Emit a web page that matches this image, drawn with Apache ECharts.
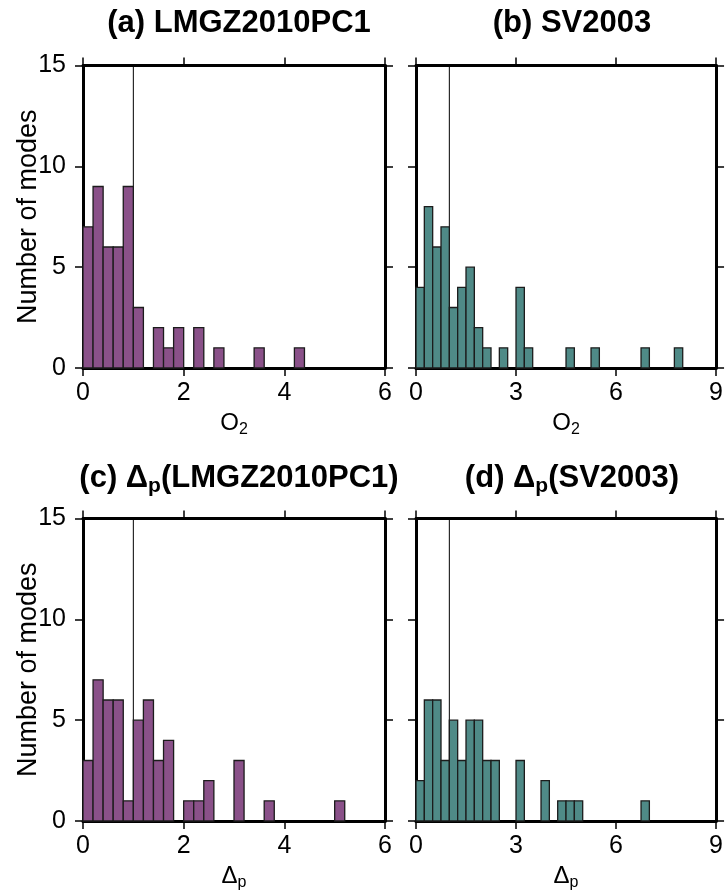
<!DOCTYPE html>
<html>
<head>
<meta charset="utf-8">
<script src="https://cdn.jsdelivr.net/npm/echarts@6/dist/echarts.min.js"></script>
<style>
  html, body { margin: 0; padding: 0; background: #fff; }
  #chart { width: 726px; height: 892px; }
</style>
</head>
<body>
<div id="chart"></div>
<script>
// Histogram counts (number of modes per bin)
const binWidthO2LMGZ = 0.2;
const countsO2LMGZ = [7, 9, 6, 6, 9, 3, 0, 2, 1, 2, 0, 2, 0, 1, 0, 0, 0, 1, 0, 0, 0, 1];

const binWidthO2SV = 0.25;
const countsO2SV = [4, 8, 6, 7, 3, 4, 5, 2, 1, 0, 1, 0, 4, 1, 0, 0, 0, 0, 1, 0, 0, 1, 0, 0, 0, 0, 0, 1, 0, 0, 0, 1];

const binWidthDpLMGZ = 0.2;
const countsDpLMGZ = [3, 7, 6, 6, 1, 5, 6, 3, 4, 0, 1, 1, 2, 0, 0, 3, 0, 0, 1, 0, 0, 0, 0, 0, 0, 1];

const binWidthDpSV = 0.25;
const countsDpSV = [2, 6, 6, 3, 5, 3, 5, 5, 3, 3, 0, 0, 3, 0, 0, 2, 0, 1, 1, 1, 0, 0, 0, 0, 0, 0, 0, 1];

// Axis ranges and tick steps
const xMaxLMGZ = 6, xStepLMGZ = 2;
const xMaxSV = 9, xStepSV = 3;
const yMax = 15, yStep = 5;
const refX = 1;

const panelTitles = [
  '{t|(a) LMGZ2010PC1}',
  '{t|(b) SV2003}',
  '{t|(c) Δ}{s|p}{t|(LMGZ2010PC1)}',
  '{t|(d) Δ}{s|p}{t|(SV2003)}'
];
const xNames = ['{n|O}{sub|2}', '{n|O}{sub|2}', '{n|Δ}{sub|p}', '{n|Δ}{sub|p}'];
const yName = 'Number of modes';

const PURPLE = '#8a5189';
const TEAL = '#4f8a87';
const FONT = '"Liberation Sans", Arial, Helvetica, sans-serif';

function toBins(counts, w) {
  const out = [];
  counts.forEach((c, i) => { if (c > 0) out.push([i * w, (i + 1) * w, c]); });
  return out;
}

const panels = [
  { counts: countsO2LMGZ, w: binWidthO2LMGZ, xMax: xMaxLMGZ, step: xStepLMGZ, color: PURPLE, left: 83, top: 65.5, yLabels: true },
  { counts: countsO2SV, w: binWidthO2SV, xMax: xMaxSV, step: xStepSV, color: TEAL, left: 416, top: 65.5, yLabels: false },
  { counts: countsDpLMGZ, w: binWidthDpLMGZ, xMax: xMaxLMGZ, step: xStepLMGZ, color: PURPLE, left: 83, top: 518.5, yLabels: true },
  { counts: countsDpSV, w: binWidthDpSV, xMax: xMaxSV, step: xStepSV, color: TEAL, left: 416, top: 518.5, yLabels: false }
];
const GW = 302, GH = 302.5;

const grid = [], xAxis = [], yAxis = [], series = [], title = [];

const tickStyle = { show: true, inside: false, length: 8, lineStyle: { color: '#000', width: 1.5 } };
const lineStyle = { show: true, onZero: false, lineStyle: { color: '#000', width: 3 } };
const labelStyle = { color: '#000', fontSize: 25, fontFamily: FONT };

panels.forEach((p, i) => {
  grid.push({ left: p.left, top: p.top, width: GW, height: GH, containLabel: false });

  // bottom axis with labels and name
  xAxis.push({
    type: 'value', gridIndex: i, position: 'bottom', min: 0, max: p.xMax, interval: p.step,
    axisLine: lineStyle, axisTick: tickStyle, splitLine: { show: false },
    axisLabel: Object.assign({ margin: 13, showMinLabel: true, showMaxLabel: true }, labelStyle),
    name: xNames[i], nameLocation: 'middle', nameGap: 40, nameMoveOverlap: false,
    nameTextStyle: {
      rich: {
        n: { fontSize: 24, fontFamily: FONT, color: '#000' },
        sub: { fontSize: 16, fontFamily: FONT, color: '#000', padding: [14, 0, 0, 0] }
      }
    }
  });
  // mirrored top axis
  xAxis.push({
    type: 'value', gridIndex: i, position: 'top', min: 0, max: p.xMax, interval: p.step,
    axisLine: lineStyle, axisTick: tickStyle, splitLine: { show: false }, axisLabel: { show: false }
  });

  yAxis.push({
    type: 'value', gridIndex: i, position: 'left', min: 0, max: yMax, interval: yStep,
    axisLine: lineStyle, axisTick: tickStyle, splitLine: { show: false },
    axisLabel: Object.assign({ show: p.yLabels, margin: 17 }, labelStyle),
    name: p.yLabels ? yName : '', nameLocation: 'middle', nameGap: 41, nameMoveOverlap: false,
    nameTextStyle: { fontSize: 27, fontFamily: FONT, color: '#000' }
  });
  yAxis.push({
    type: 'value', gridIndex: i, position: 'right', min: 0, max: yMax, interval: yStep,
    axisLine: lineStyle, axisTick: tickStyle, splitLine: { show: false }, axisLabel: { show: false }
  });

  // reference line at x = 1
  series.push({
    type: 'line', xAxisIndex: 2 * i, yAxisIndex: 2 * i, data: [[refX, 0], [refX, yMax]],
    symbol: 'none', lineStyle: { color: '#000', width: 1 }, z: 1, silent: true, animation: false
  });

  // histogram bars
  series.push({
    type: 'custom', xAxisIndex: 2 * i, yAxisIndex: 2 * i, z: 2, animation: false,
    data: toBins(p.counts, p.w),
    encode: { x: [0, 1], y: 2 },
    renderItem: (params, api) => {
      const a = api.coord([api.value(0), api.value(2)]);
      const b = api.coord([api.value(1), 0]);
      return {
        type: 'rect',
        shape: { x: a[0], y: a[1], width: b[0] - a[0], height: b[1] - a[1] },
        style: { fill: p.color, stroke: '#1c1c1c', lineWidth: 1.3 }
      };
    }
  });

  title.push({
    text: panelTitles[i], left: p.left + GW / 2, top: p.top - 63, textAlign: 'center',
    textStyle: {
      rich: {
        t: { fontSize: 31, fontWeight: 'bold', fontFamily: FONT, color: '#000' },
        s: { fontSize: 21, fontWeight: 'bold', fontFamily: FONT, color: '#000', padding: [15, 0, 0, 0] }
      }
    }
  });
});

const chart = echarts.init(document.getElementById('chart'), null, { renderer: 'canvas' });
chart.setOption({ animation: false, backgroundColor: '#fff', title, grid, xAxis, yAxis, series });
</script>
</body>
</html>
